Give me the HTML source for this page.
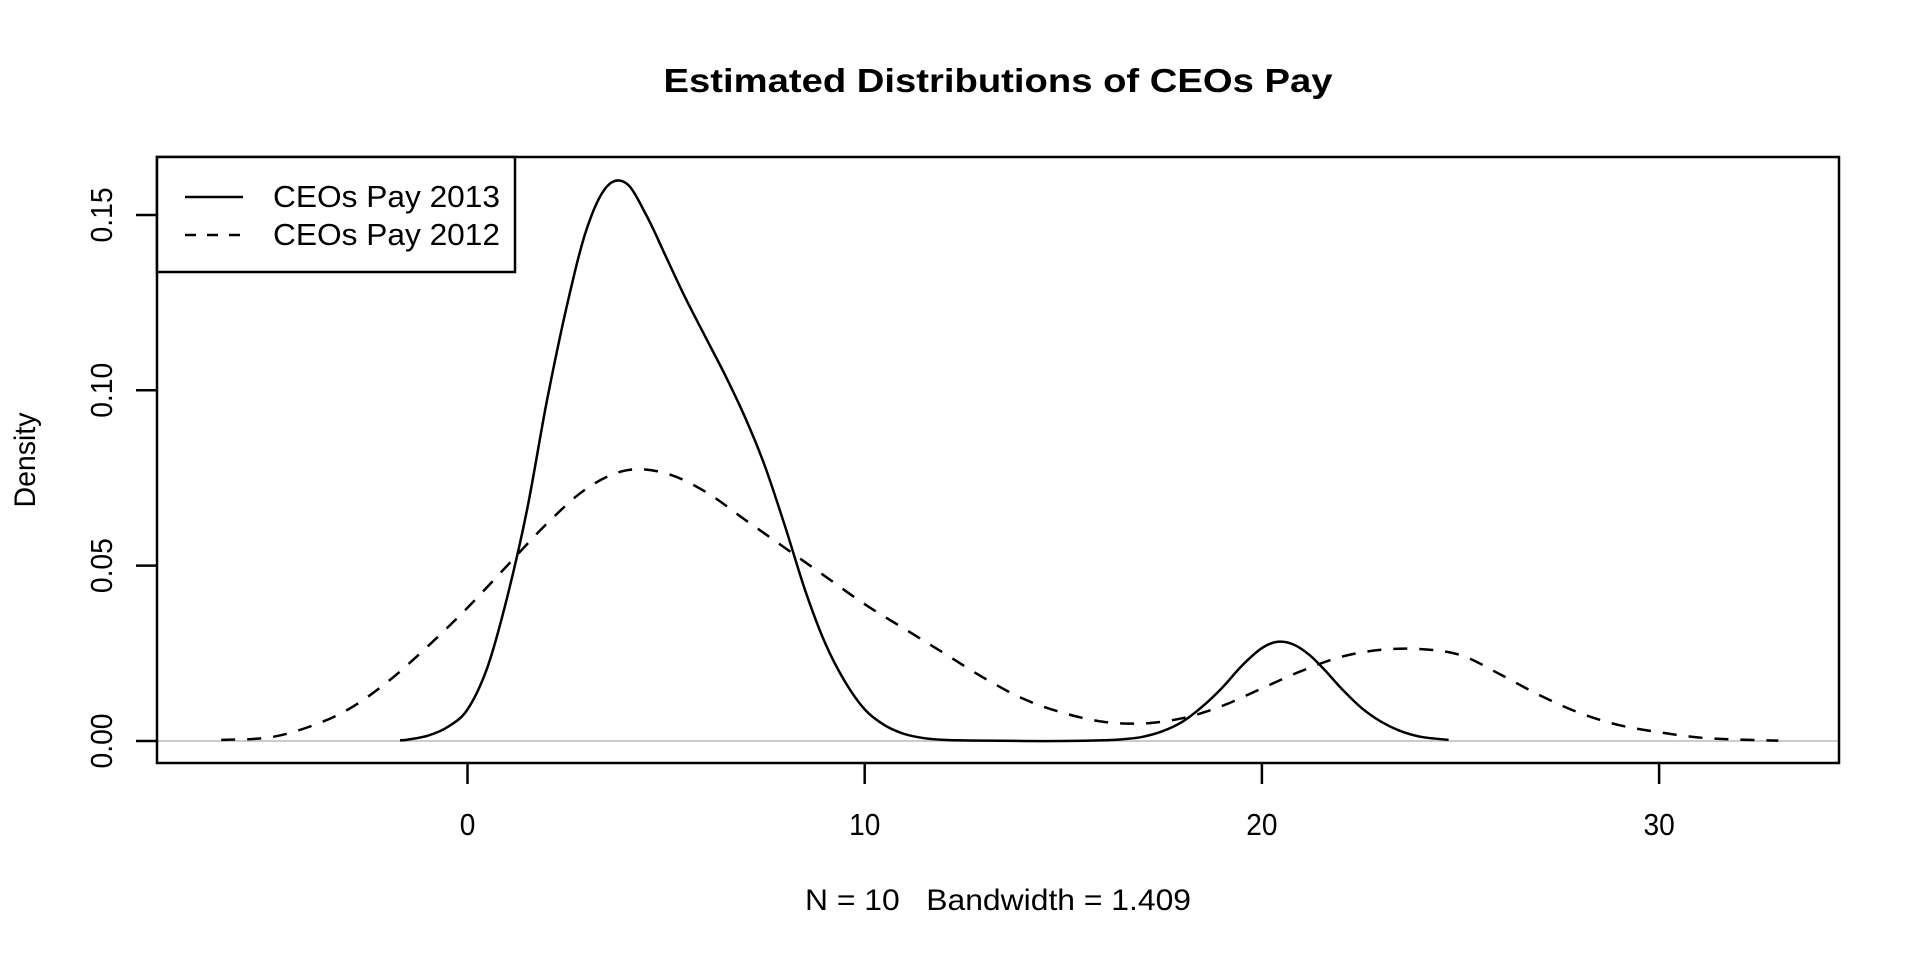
<!DOCTYPE html>
<html><head><meta charset="utf-8"><style>
html,body{margin:0;padding:0;background:#fff;}
svg{display:block;font-family:"Liberation Sans",Arial,sans-serif;}
</style></head><body>
<svg id="chart" width="1920" height="960" viewBox="0 0 1920 960">
<text x="998" y="92" text-anchor="middle" font-size="33" font-weight="bold" textLength="669" lengthAdjust="spacingAndGlyphs">Estimated Distributions of CEOs Pay</text>
<line x1="157" x2="1839" y1="741" y2="741" stroke="#cccccc" stroke-width="2"/>
<g id="series"></g>
<rect x="157" y="157" width="1682" height="606" fill="none" stroke="#000" stroke-width="2.5"/>
<g id="xaxis"></g>
<g id="yaxis"></g>
<text x="998" y="910" text-anchor="middle" font-size="30" textLength="386" lengthAdjust="spacingAndGlyphs" style="white-space:pre">N = 10&#160;&#160;&#160;Bandwidth = 1.409</text>
<text transform="translate(35,460) rotate(-90)" text-anchor="middle" font-size="30" textLength="95" lengthAdjust="spacingAndGlyphs">Density</text>
<g>
<rect x="157" y="157" width="358" height="115" fill="#fff" stroke="#000" stroke-width="2.5"/>
<line x1="185" x2="243" y1="197" y2="197" stroke="#000" stroke-width="2.5"/>
<text x="273" y="207" font-size="31" textLength="227" lengthAdjust="spacingAndGlyphs">CEOs Pay 2013</text>
<line x1="185" x2="243" y1="235" y2="235" stroke="#000" stroke-width="2.5" stroke-dasharray="11 11"/>
<text x="273" y="245" font-size="31" textLength="227" lengthAdjust="spacingAndGlyphs">CEOs Pay 2012</text>
</g>
</svg>
<script>
const xTicks = [0, 10, 20, 30];
const yTicks = [0, 0.05, 0.10, 0.15];
const yTickLabels = ["0.00", "0.05", "0.10", "0.15"];
const x2013 = [-1.7,-1.5,-1,-0.5,0,0.5,1,1.5,2,2.5,3,3.5,4,4.5,5,5.5,6,6.5,7,7.5,8,8.5,9,9.5,10,10.5,11,11.5,12,13,14,15,16,16.5,17,17.5,18,18.5,19,19.5,20,20.4,20.8,21.2,21.6,22,22.5,23,23.5,24,24.7];
const y2013 = [0.0002,0.0004,0.0015,0.004,0.009,0.021,0.041,0.066,0.097,0.124,0.146,0.158,0.159,0.150,0.138,0.126,0.115,0.104,0.092,0.078,0.061,0.043,0.028,0.017,0.009,0.0045,0.002,0.0008,0.0003,0.0001,0,0,0.0002,0.0005,0.0012,0.0028,0.0055,0.0098,0.0152,0.0215,0.0265,0.0283,0.0275,0.0245,0.02,0.015,0.0095,0.0055,0.0028,0.0012,0.0003];
const x2012 = [-6.2,-5,-4,-3,-2,-1,0,1,2,3,4,5,6,7,8,9,10,11,12,13,14,15,16,17,18,19,20,21,22,23,24,25,26,27,28,29,30,31,32,33];
const y2012 = [0.0003,0.001,0.004,0.009,0.017,0.027,0.038,0.05,0.062,0.072,0.0772,0.0763,0.071,0.063,0.055,0.047,0.039,0.032,0.025,0.018,0.012,0.008,0.0055,0.005,0.0065,0.01,0.015,0.02,0.024,0.026,0.0262,0.0245,0.019,0.013,0.008,0.0045,0.0025,0.001,0.0004,0.0001];

const NS = "http://www.w3.org/2000/svg";
function xs(v){ return 467.5 + v * 39.72; }
function ys(v){ return 741 - v * 3507; }
function mk(tag, attrs){ const e = document.createElementNS(NS, tag); for (const k in attrs) e.setAttribute(k, attrs[k]); return e; }
function pathFrom(xa, ya){
  const p = xa.map((x,i)=>[xs(x), ys(ya[i])]);
  let d = "M" + p[0][0].toFixed(1) + "," + p[0][1].toFixed(1);
  for (let i=0;i<p.length-1;i++){
    const p0=p[Math.max(0,i-1)], p1=p[i], p2=p[i+1], p3=p[Math.min(p.length-1,i+2)];
    const c1=[p1[0]+(p2[0]-p0[0])/6, p1[1]+(p2[1]-p0[1])/6];
    const c2=[p2[0]-(p3[0]-p1[0])/6, p2[1]-(p3[1]-p1[1])/6];
    d += " C"+c1[0].toFixed(1)+","+c1[1].toFixed(1)+" "+c2[0].toFixed(1)+","+c2[1].toFixed(1)+" "+p2[0].toFixed(1)+","+p2[1].toFixed(1);
  }
  return d;
}
const series = document.getElementById("series");
const l13 = mk("path", {d: pathFrom(x2013, y2013), fill: "none", stroke: "#000", "stroke-width": 2.5});


series.appendChild(l13);
const l12 = mk("path", {d: pathFrom(x2012, y2012), fill: "none", stroke: "#000", "stroke-width": 2.5, "stroke-dasharray": "14 12"});


series.appendChild(l12);

const xa = document.getElementById("xaxis");
xTicks.forEach(v => {
  const t = mk("line", {x1: xs(v), x2: xs(v), y1: 763, y2: 784, stroke: "#000", "stroke-width": 2.5});
  
  
  xa.appendChild(t);
  const s = String(v);
  const lb = mk("text", {x: xs(v), y: 835, "text-anchor": "middle", "font-size": 31, textLength: (s.length * 15.6).toFixed(1), lengthAdjust: "spacingAndGlyphs"});
  
  
  lb.textContent = s;
  xa.appendChild(lb);
});
const ya = document.getElementById("yaxis");
yTicks.forEach((v, i) => {
  const t = mk("line", {x1: 157, x2: 136, y1: ys(v), y2: ys(v), stroke: "#000", "stroke-width": 2.5});
  
  
  ya.appendChild(t);
  const lb = mk("text", {transform: "translate(112," + ys(v) + ") rotate(-90)", "text-anchor": "middle", "font-size": 31, textLength: "55", lengthAdjust: "spacingAndGlyphs"});
  
  
  lb.textContent = yTickLabels[i];
  ya.appendChild(lb);
});
</script>
</body></html>
